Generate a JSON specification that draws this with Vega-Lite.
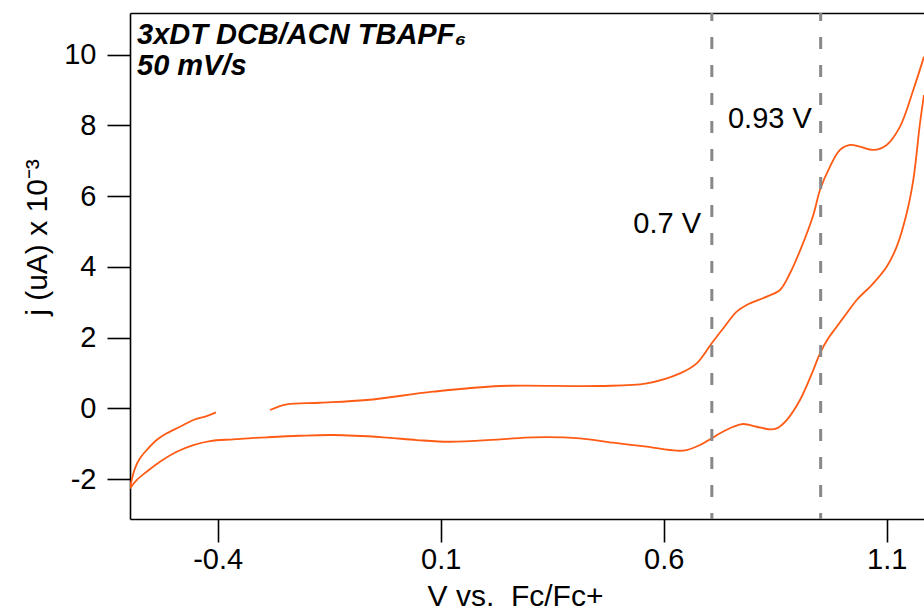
{
  "$schema": "https://vega.github.io/schema/vega-lite/v6.json",
  "width": 794,
  "height": 506,
  "autosize": {"type": "none"},
  "padding": {"left": 130, "top": 13, "right": 0, "bottom": 93},
  "background": "white",
  "config": {
    "view": {"stroke": null},
    "font": "Liberation Sans",
    "axis": {
      "grid": false,
      "domainColor": "black",
      "domainWidth": 1.6,
      "tickColor": "black",
      "tickWidth": 1.6,
      "tickSize": 23,
      "labelColor": "black",
      "labelFont": "Liberation Sans",
      "labelFontSize": 29,
      "titleColor": "black",
      "titleFont": "Liberation Sans",
      "titleFontSize": 30,
      "titleFontWeight": "normal"
    }
  },
  "datasets": {
    "cv": [
      {"seg": "a", "i": 1, "v": -0.2827, "j": -0.048},
      {"seg": "a", "i": 2, "v": -0.2453, "j": 0.113},
      {"seg": "a", "i": 3, "v": -0.1706, "j": 0.158},
      {"seg": "a", "i": 4, "v": -0.0659, "j": 0.235},
      {"seg": "a", "i": 5, "v": 0.0827, "j": 0.47},
      {"seg": "a", "i": 6, "v": 0.233, "j": 0.631},
      {"seg": "a", "i": 7, "v": 0.4572, "j": 0.631},
      {"seg": "a", "i": 8, "v": 0.5619, "j": 0.707},
      {"seg": "a", "i": 9, "v": 0.6366, "j": 0.99},
      {"seg": "a", "i": 10, "v": 0.674, "j": 1.273},
      {"seg": "a", "i": 11, "v": 0.7077, "j": 1.839},
      {"seg": "a", "i": 12, "v": 0.7337, "j": 2.263},
      {"seg": "a", "i": 13, "v": 0.7637, "j": 2.733},
      {"seg": "a", "i": 14, "v": 0.7861, "j": 2.922},
      {"seg": "a", "i": 15, "v": 0.831, "j": 3.157},
      {"seg": "a", "i": 16, "v": 0.8608, "j": 3.347},
      {"seg": "a", "i": 17, "v": 0.8832, "j": 3.819},
      {"seg": "a", "i": 18, "v": 0.9094, "j": 4.571},
      {"seg": "a", "i": 19, "v": 0.9355, "j": 5.468},
      {"seg": "a", "i": 20, "v": 0.9505, "j": 6.176},
      {"seg": "a", "i": 21, "v": 0.9729, "j": 6.835},
      {"seg": "a", "i": 22, "v": 0.9953, "j": 7.307},
      {"seg": "a", "i": 23, "v": 1.0177, "j": 7.449},
      {"seg": "a", "i": 24, "v": 1.0402, "j": 7.4},
      {"seg": "a", "i": 25, "v": 1.07, "j": 7.307},
      {"seg": "a", "i": 26, "v": 1.1, "j": 7.449},
      {"seg": "a", "i": 27, "v": 1.1299, "j": 7.966},
      {"seg": "a", "i": 28, "v": 1.1597, "j": 9.004},
      {"seg": "a", "i": 29, "v": 1.1837, "j": 9.946},
      {"seg": "b", "i": 1, "v": 1.1837, "j": 8.863},
      {"seg": "b", "i": 2, "v": 1.1747, "j": 8.062},
      {"seg": "b", "i": 3, "v": 1.1597, "j": 6.458},
      {"seg": "b", "i": 4, "v": 1.1449, "j": 5.516},
      {"seg": "b", "i": 5, "v": 1.1225, "j": 4.571},
      {"seg": "b", "i": 6, "v": 1.1, "j": 4.006},
      {"seg": "b", "i": 7, "v": 1.07, "j": 3.536},
      {"seg": "b", "i": 8, "v": 1.0328, "j": 3.064},
      {"seg": "b", "i": 9, "v": 1.0103, "j": 2.687},
      {"seg": "b", "i": 10, "v": 0.9879, "j": 2.308},
      {"seg": "b", "i": 11, "v": 0.9691, "j": 1.98},
      {"seg": "b", "i": 12, "v": 0.9505, "j": 1.556},
      {"seg": "b", "i": 13, "v": 0.9355, "j": 1.083},
      {"seg": "b", "i": 14, "v": 0.9056, "j": 0.235},
      {"seg": "b", "i": 15, "v": 0.8758, "j": -0.331},
      {"seg": "b", "i": 16, "v": 0.8534, "j": -0.566},
      {"seg": "b", "i": 17, "v": 0.8384, "j": -0.594},
      {"seg": "b", "i": 18, "v": 0.8085, "j": -0.521},
      {"seg": "b", "i": 19, "v": 0.7785, "j": -0.444},
      {"seg": "b", "i": 20, "v": 0.7561, "j": -0.521},
      {"seg": "b", "i": 21, "v": 0.7263, "j": -0.707},
      {"seg": "b", "i": 22, "v": 0.7077, "j": -0.849},
      {"seg": "b", "i": 23, "v": 0.6814, "j": -1.038},
      {"seg": "b", "i": 24, "v": 0.6516, "j": -1.18},
      {"seg": "b", "i": 25, "v": 0.6292, "j": -1.199},
      {"seg": "b", "i": 26, "v": 0.5619, "j": -1.086},
      {"seg": "b", "i": 27, "v": 0.487, "j": -0.973},
      {"seg": "b", "i": 28, "v": 0.4123, "j": -0.849},
      {"seg": "b", "i": 29, "v": 0.3076, "j": -0.82},
      {"seg": "b", "i": 30, "v": 0.233, "j": -0.877},
      {"seg": "b", "i": 31, "v": 0.1209, "j": -0.945},
      {"seg": "b", "i": 32, "v": 0.0462, "j": -0.897},
      {"seg": "b", "i": 33, "v": -0.0287, "j": -0.82},
      {"seg": "b", "i": 34, "v": -0.1408, "j": -0.755},
      {"seg": "b", "i": 35, "v": -0.2155, "j": -0.775},
      {"seg": "b", "i": 36, "v": -0.2901, "j": -0.82},
      {"seg": "b", "i": 37, "v": -0.365, "j": -0.877},
      {"seg": "b", "i": 38, "v": -0.4173, "j": -0.925},
      {"seg": "b", "i": 39, "v": -0.4547, "j": -1.038},
      {"seg": "b", "i": 40, "v": -0.4919, "j": -1.228},
      {"seg": "b", "i": 41, "v": -0.5294, "j": -1.511},
      {"seg": "b", "i": 42, "v": -0.5592, "j": -1.794},
      {"seg": "b", "i": 43, "v": -0.5816, "j": -2.028},
      {"seg": "b", "i": 44, "v": -0.5966, "j": -2.263},
      {"seg": "c", "i": 1, "v": -0.5966, "j": -2.263},
      {"seg": "c", "i": 2, "v": -0.5928, "j": -2.028},
      {"seg": "c", "i": 3, "v": -0.5854, "j": -1.697},
      {"seg": "c", "i": 4, "v": -0.5742, "j": -1.414},
      {"seg": "c", "i": 5, "v": -0.5592, "j": -1.18},
      {"seg": "c", "i": 6, "v": -0.5368, "j": -0.897},
      {"seg": "c", "i": 7, "v": -0.5144, "j": -0.707},
      {"seg": "c", "i": 8, "v": -0.4845, "j": -0.521},
      {"seg": "c", "i": 9, "v": -0.4547, "j": -0.331},
      {"seg": "c", "i": 10, "v": -0.4247, "j": -0.218},
      {"seg": "c", "i": 11, "v": -0.4038, "j": -0.113}
    ],
    "marks": [
      {"v": 0.708},
      {"v": 0.952}
    ]
  },
  "layer": [
    {
      "data": {"name": "cv"},
      "mark": {"type": "line", "color": "#ff5b14", "strokeWidth": 1.8, "interpolate": "catmull-rom", "clip": true},
      "encoding": {
        "x": {
          "field": "v", "type": "quantitative",
          "scale": {"domain": [-0.5966, 1.1837], "nice": false, "zero": false},
          "axis": {
            "values": [-0.4, 0.1, 0.6, 1.1],
            "format": ".1f",
            "labelExpr": "replace(datum.label, '−', '-')",
            "labelPadding": 3,
            "title": "V vs.\u00a0 Fc/Fc+",
            "titleX": 385,
            "titleY": 86,
            "titleAlign": "center",
            "titleBaseline": "alphabetic"
          }
        },
        "y": {
          "field": "j", "type": "quantitative",
          "scale": {"domain": [-3.13, 11.18], "nice": false, "zero": false},
          "axis": {
            "values": [-2, 0, 2, 4, 6, 8, 10],
            "labelExpr": "replace(datum.label, '−', '-')",
            "labelPadding": 11,
            "title": "j (uA) x 10⁻³",
            "titleX": -84,
            "titleY": 224,
            "titleAngle": -90,
            "titleAlign": "center",
            "titleBaseline": "alphabetic"
          }
        },
        "detail": {"field": "seg"},
        "order": {"field": "i", "type": "quantitative"}
      }
    },
    {
      "data": {"name": "marks"},
      "mark": {"type": "rule", "color": "#888888", "strokeWidth": 3, "strokeDash": [12, 16], "strokeDashOffset": 4},
      "encoding": {
        "x": {
          "field": "v", "type": "quantitative",
          "scale": {"domain": [-0.5966, 1.1837], "nice": false, "zero": false},
          "axis": {"orient": "top", "labels": false, "ticks": false, "title": null, "domain": true}
        }
      }
    },
    {
      "data": {"values": [{"t": "0.93 V"}]},
      "mark": {"type": "text", "align": "left", "baseline": "alphabetic", "fontSize": 29, "color": "black"},
      "encoding": {
        "x": {"datum": 0.7442, "type": "quantitative", "axis": null, "scale": {"domain": [-0.5966, 1.1837], "nice": false, "zero": false}},
        "y": {"datum": 7.929, "type": "quantitative", "scale": {"domain": [-3.13, 11.18], "nice": false, "zero": false}},
        "text": {"field": "t"}
      }
    },
    {
      "data": {"values": [{"t": "0.7 V"}]},
      "mark": {"type": "text", "align": "left", "baseline": "alphabetic", "fontSize": 29, "color": "black"},
      "encoding": {
        "x": {"datum": 0.5319, "type": "quantitative", "axis": null, "scale": {"domain": [-0.5966, 1.1837], "nice": false, "zero": false}},
        "y": {"datum": 4.951, "type": "quantitative", "scale": {"domain": [-3.13, 11.18], "nice": false, "zero": false}},
        "text": {"field": "t"}
      }
    },
    {
      "data": {"values": [{"t": "3xDT DCB/ACN TBAPF₆"}]},
      "mark": {"type": "text", "align": "left", "baseline": "alphabetic", "fontSize": 29, "fontWeight": "bold", "fontStyle": "italic", "color": "black"},
      "encoding": {
        "x": {"datum": -0.5809, "type": "quantitative", "axis": null, "scale": {"domain": [-0.5966, 1.1837], "nice": false, "zero": false}},
        "y": {"datum": 10.306, "type": "quantitative", "scale": {"domain": [-3.13, 11.18], "nice": false, "zero": false}},
        "text": {"field": "t"}
      }
    },
    {
      "data": {"values": [{"t": "50 mV/s"}]},
      "mark": {"type": "text", "align": "left", "baseline": "alphabetic", "fontSize": 29, "fontWeight": "bold", "fontStyle": "italic", "color": "black"},
      "encoding": {
        "x": {"datum": -0.5809, "type": "quantitative", "axis": null, "scale": {"domain": [-0.5966, 1.1837], "nice": false, "zero": false}},
        "y": {"datum": 9.429, "type": "quantitative", "scale": {"domain": [-3.13, 11.18], "nice": false, "zero": false}},
        "text": {"field": "t"}
      }
    }
  ],
  "resolve": {"axis": {"x": "independent"}}
}
